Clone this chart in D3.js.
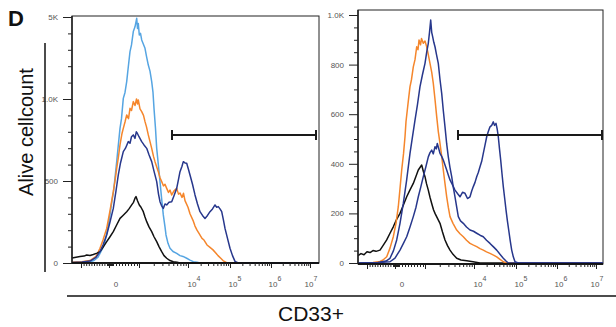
<!DOCTYPE html>
<html><head><meta charset="utf-8">
<script src="https://cdn.jsdelivr.net/npm/d3@7"></script>
<style>body{margin:0;background:#fff}svg{display:block;font-family:"Liberation Sans",Arial,sans-serif}</style>
</head><body><svg id="c" width="616" height="327"></svg>
<script>
// ---- Data (x = display channel, y = cell count) ----
const leftLightBlue = [[0,3],[8,4],[14,6],[18,8],[22,15],[26,35],[28,59],[31,95],[33,130],[35,190],[38,293],[40,380],[41.5,435],[43,520],[44.7,618],[46,700],[48,821],[49.5,880],[51.3,1004],[53,1040],[54.7,1106],[56,1180],[58,1289],[59.5,1330],[61.3,1411],[63,1440],[64.7,1492],[65.5,1430],[66.3,1460],[67.3,1390],[68.5,1400],[69.7,1360],[71,1340],[73,1309],[74.5,1260],[76.3,1207],[78,1170],[79.7,1106],[81,1040],[82,943],[83.5,820],[84.7,699],[86.5,590],[88,496],[89.5,400],[91.3,293],[93,220],[94,171],[96,120],[98,90],[101,70],[104.7,59],[108,45],[111,40],[114.7,29],[118,18],[121.3,8],[125,4],[128,0],[247,0]];
const leftOrange = [[0,5],[10,8],[18,15],[24,40],[28,90],[31,140],[34.7,211],[38,320],[41.3,435],[43,500],[44.7,577],[46.5,650],[48,720],[50,790],[51.3,821],[53,860],[54.7,903],[56.5,880],[58,943],[59.5,930],[61.3,984],[63,960],[64.5,1000],[65.5,970],[66.3,994],[68,940],[69.7,923],[71.5,900],[73,862],[74.5,830],[76.3,781],[78,740],[79.7,699],[81.5,650],[83,618],[84.5,590],[86.3,557],[88,520],[89.7,496],[91.5,470],[93,480],[94.7,455],[96.5,430],[98,445],[99.7,415],[102,440],[104.7,455],[106.5,420],[108,427],[110,400],[111.5,425],[113,380],[116,340],[118,300],[121,260],[123,225],[125,200],[127,180],[130,150],[132,140],[135,110],[138,95],[141,80],[144,60],[146,45],[148.5,30],[151,15],[155,0],[247,0]];
const leftNavy = [[0,3],[10,6],[18,12],[24,35],[28,69],[31,110],[34.7,171],[38,250],[41.3,333],[44,440],[46.3,537],[48.5,610],[51.3,679],[53.5,700],[56.3,740],[58,730],[59.5,770],[61.3,781],[63,760],[64.3,800],[65.3,791],[67,770],[69.7,740],[72,720],[74.7,699],[77,660],[79.7,618],[82,560],[84.7,496],[86.5,420],[88,374],[89.5,350],[91.3,333],[93,360],[94.7,354],[97,370],[99.7,374],[102,410],[104.7,455],[106.5,510],[108,557],[110,590],[111.3,618],[113,610],[114.7,608],[116.5,570],[118,537],[120.5,480],[123,415],[125.5,360],[128,313],[130.5,290],[133,272],[135.5,290],[138,313],[140.5,330],[143,354],[144.7,340],[146.3,344],[148,330],[149.7,313],[151.5,260],[153,211],[155.5,150],[158,90],[160.5,45],[163,10],[166.3,0],[247,0]];
const leftBlack = [[0,30],[4,35],[8,39],[12,42],[14.7,49],[18,46],[21.3,52],[25,60],[28,69],[31,95],[34.7,130],[38,160],[41.3,191],[44.5,230],[48,272],[51,290],[54.7,313],[57,330],[59.7,354],[61.5,370],[63,395],[64,405],[65.5,380],[67.3,354],[69,340],[71.3,313],[73,280],[74.7,252],[77,220],[79.7,191],[82,160],[84.7,130],[87,100],[89.7,69],[92,45],[94.7,29],[98,15],[101.3,8],[105,4],[108,0],[247,0]];

const rightBlack = [[0,30],[3,38],[6,33],[9,45],[12,42],[15,50],[18,47],[22,52],[25,70],[28.7,93],[32,120],[35.3,146],[38.5,175],[42,200],[45.5,235],[48.7,267],[52,295],[55.3,321],[58,350],[60.3,375],[62,385],[63.7,395],[65.3,370],[67,348],[68.5,320],[70.3,294],[72,265],[73.7,240],[75.5,215],[77,200],[79.5,180],[82,160],[84.5,125],[87,93],[89.5,70],[92,52],[95,35],[98.7,19],[103,12],[108.7,9],[115,5],[122,0],[245,0]];
const rightOrange = [[0,0],[15,2],[22,6],[25,12],[28.7,25],[32,60],[35.3,106],[38,160],[40.3,227],[42,300],[43.7,375],[45.5,440],[47,509],[48,570],[49.3,617],[50.5,660],[52,711],[53.5,740],[55.3,791],[57,820],[58.7,872],[60,860],[61,899],[62.5,880],[63.5,905],[65.3,886],[67,895],[68.7,872],[70.3,840],[72,805],[73.7,770],[75.3,724],[77,660],[78.7,590],[80.3,530],[82,482],[83.7,430],[85.3,375],[87,320],[88.7,267],[90.3,225],[92,187],[95,160],[98.7,133],[102,118],[105.3,106],[108.5,92],[112,79],[115.5,72],[118.7,66],[122,58],[125.3,52],[128.5,45],[132,39],[135.5,32],[138.7,25],[142,15],[145.3,5],[148.7,0],[245,0]];
const rightNavyTall = [[0,0],[20,2],[28,8],[32,19],[35.5,50],[38.7,93],[42,160],[45.3,240],[48.5,330],[52,442],[54.5,510],[57,576],[59.5,640],[62,711],[64.5,760],[67,805],[68.7,850],[70.3,886],[71.5,930],[72.7,980],[73.7,930],[74.7,912],[75.8,890],[77,872],[78.5,840],[80.3,805],[82,740],[83.7,684],[85.3,615],[87,549],[88.7,480],[90.3,428],[92,385],[93.7,348],[95.3,305],[97,267],[98.7,225],[100.3,187],[102.5,170],[105.3,160],[108.5,145],[112,133],[115.5,128],[118.7,120],[122,112],[125.3,106],[128.5,92],[132,79],[135.5,65],[138.7,52],[142,35],[145.3,19],[148,8],[150.3,0],[245,0]];
const rightNavyBimodal = [[0,0],[22,2],[28,4],[32,5],[37,20],[42,52],[45.3,78],[48.7,106],[52,145],[55.3,187],[58,225],[60.3,267],[63,310],[65.3,348],[68,390],[70.3,428],[72,445],[73.7,455],[75.3,440],[77,469],[78.3,460],[79.3,482],[80.5,465],[82,442],[83.7,430],[85.3,415],[87,395],[88.7,375],[90.3,355],[92,335],[94.5,315],[97,294],[99.5,280],[102,267],[104.5,285],[107,281],[109.5,260],[112,267],[113.7,290],[115.3,308],[117,325],[118.7,348],[120.3,365],[122,388],[123.7,410],[125.3,442],[127,475],[128.7,509],[130.3,530],[132,549],[133.7,555],[135.3,569],[136.5,555],[138,563],[139.2,540],[140.3,509],[141.5,460],[142.7,415],[144,360],[145.3,308],[146.7,260],[148,214],[149.4,170],[150.7,133],[152.2,90],[153.7,52],[155.3,25],[157,5],[160.3,0],[245,0]];

// axis ticks / labels
const xMajorTicks = [9, 37, 67, 116, 158, 199, 238];
const xLabelPos = [44, 120, 161, 201, 237];
const xLabelBase = ["0", "10", "10", "10", "10"];
const xLabelExp = ["", "4", "5", "6", "7"];
const leftYMajor = [0, 500, 1000, 1500];
const leftYLabels = ["0", "500", "1.0K", "5K"];
const rightYMajor = [0, 200, 400, 600, 800, 1000];
const rightYLabels = ["0", "200", "400", "600", "800", "1.0K"];
const gateRange = [100, 244];

const C = {lightblue:"#56a5e2", orange:"#f5862c", navy:"#27378c", black:"#111111"};

// minor x ticks (axis decoration)
const xMinorTicks = [];
for (let i = 1; i < 11; i++) xMinorTicks.push(9 + i * 2.6);
[36, 38, 39, 40, 41].forEach(v => xMinorTicks.push(v));
for (let i = 1; i < 9; i++) xMinorTicks.push(41 + i * 3);
for (let d = 2; d < xMajorTicks.length - 1; d++) {
  const a = xMajorTicks[d], b = xMajorTicks[d + 1];
  for (let k = 2; k <= 9; k++) xMinorTicks.push(a + (b - a) * Math.log10(k));
}

const svg = d3.select("#c");

function drawPanel(cfg) {
  const x = d3.scaleLinear().domain(cfg.xDom).range([cfg.x0, cfg.x1]);
  const y = d3.scaleLinear().domain(cfg.yDom).range(cfg.yRange);
  const g = svg.append("g");
  g.append("rect").attr("x", cfg.x0).attr("y", cfg.yTop)
    .attr("width", cfg.x1 - cfg.x0).attr("height", cfg.yBot - cfg.yTop)
    .attr("fill", "none").attr("stroke", "#222").attr("stroke-width", 1);
  const line = d3.line().x(d => x(d[0])).y(d => y(d[1]));
  cfg.series.forEach(s => {
    g.append("path").datum(s.data).attr("d", line)
      .attr("fill", "none").attr("stroke", s.color)
      .attr("stroke-width", 1.5).attr("stroke-linejoin", "round");
  });
  // gate
  const gy = y(cfg.gateY);
  const gx0 = x(gateRange[0]), gx1 = x(gateRange[1]);
  g.append("line").attr("x1", gx0).attr("x2", gx1).attr("y1", gy).attr("y2", gy)
    .attr("stroke", "#1a1a1a").attr("stroke-width", 2);
  [gx0, gx1].forEach(gx => g.append("line").attr("x1", gx).attr("x2", gx)
    .attr("y1", gy - 5).attr("y2", gy + 5).attr("stroke", "#1a1a1a").attr("stroke-width", 2));

  // y axis
  const yMajAx = g.append("g").attr("transform", `translate(${cfg.x0},0)`)
    .call(d3.axisLeft(y).tickValues(cfg.yMajor).tickSize(9).tickPadding(5)
      .tickFormat((d, i) => cfg.yLabels[i]));
  const yMinAx = g.append("g").attr("transform", `translate(${cfg.x0},0)`)
    .call(d3.axisLeft(y).tickValues(cfg.yMinor).tickSize(4).tickFormat(""));
  [yMajAx, yMinAx].forEach(a => {
    a.select(".domain").attr("stroke", "#222").attr("d", `M0,${cfg.yTop}V${cfg.yBot}`);
    a.selectAll(".tick line").attr("stroke", "#222");
  });
  yMajAx.selectAll("text").attr("fill", "#555").style("font-size", "8px")
    .style("font-family", '"Liberation Sans",Arial,sans-serif');

  // x axis
  const xMajAx = g.append("g").attr("transform", `translate(0,${cfg.yBot})`)
    .call(d3.axisBottom(x).tickValues(xMajorTicks).tickSize(5).tickFormat(""));
  const xMinAx = g.append("g").attr("transform", `translate(0,${cfg.yBot})`)
    .call(d3.axisBottom(x).tickValues(xMinorTicks).tickSize(3).tickFormat(""));
  [xMajAx, xMinAx].forEach(a => {
    a.select(".domain").attr("stroke", "#111").attr("stroke-width", 1.6)
      .attr("d", `M${cfg.x0},0H${cfg.x1}`);
    a.selectAll(".tick line").attr("stroke", "#222");
  });
  xLabelPos.forEach((p, i) => {
    const t = g.append("text").attr("y", 287).attr("fill", "#555").style("font-size", "8px");
    if (xLabelExp[i] === "") {
      t.attr("x", x(p)).attr("text-anchor", "middle").text(xLabelBase[i]);
    } else {
      t.attr("x", x(p) - 4.5).attr("text-anchor", "start");
      t.append("tspan").text(xLabelBase[i]);
      t.append("tspan").attr("dy", -6).style("font-size", "7px").text(xLabelExp[i]);
    }
  });
}

drawPanel({
  x0: 72, x1: 319, yTop: 16, yBot: 263, xDom: [0, 247],
  yDom: [0, 1500], yRange: [263, 17],
  series: [
    {data: leftLightBlue, color: C.lightblue},
    {data: leftOrange, color: C.orange},
    {data: leftBlack, color: C.black},
    {data: leftNavy, color: C.navy}
  ],
  yMajor: leftYMajor, yLabels: leftYLabels,
  yMinor: d3.range(100, 1500, 100).filter(v => v % 500 !== 0),
  gateY: 780
});

drawPanel({
  x0: 358, x1: 603, yTop: 10, yBot: 264, xDom: [0, 245],
  yDom: [0, 1000], yRange: [263, 15],
  series: [
    {data: rightBlack, color: C.black},
    {data: rightOrange, color: C.orange},
    {data: rightNavyTall, color: C.navy},
    {data: rightNavyBimodal, color: C.navy}
  ],
  yMajor: rightYMajor, yLabels: rightYLabels,
  yMinor: d3.range(50, 1000, 50).filter(v => v % 200 !== 0),
  gateY: 516
});

// panel letter, axis titles and frame lines
svg.append("text").attr("x", 8).attr("y", 26).attr("font-weight", "bold")
  .style("font-size", "22px").attr("fill", "#111").text("D");
svg.append("text").attr("transform", "translate(33,132) rotate(-90)")
  .attr("text-anchor", "middle").style("font-size", "20px").attr("fill", "#111")
  .text("Alive cellcount");
svg.append("line").attr("x1", 45).attr("x2", 45).attr("y1", 43).attr("y2", 272)
  .attr("stroke", "#111").attr("stroke-width", 1.5);
svg.append("line").attr("x1", 67).attr("x2", 616).attr("y1", 296).attr("y2", 296)
  .attr("stroke", "#111").attr("stroke-width", 1.5);
svg.append("text").attr("x", 311).attr("y", 321).attr("text-anchor", "middle")
  .style("font-size", "21px").attr("fill", "#111").text("CD33+");
</script></body></html>
